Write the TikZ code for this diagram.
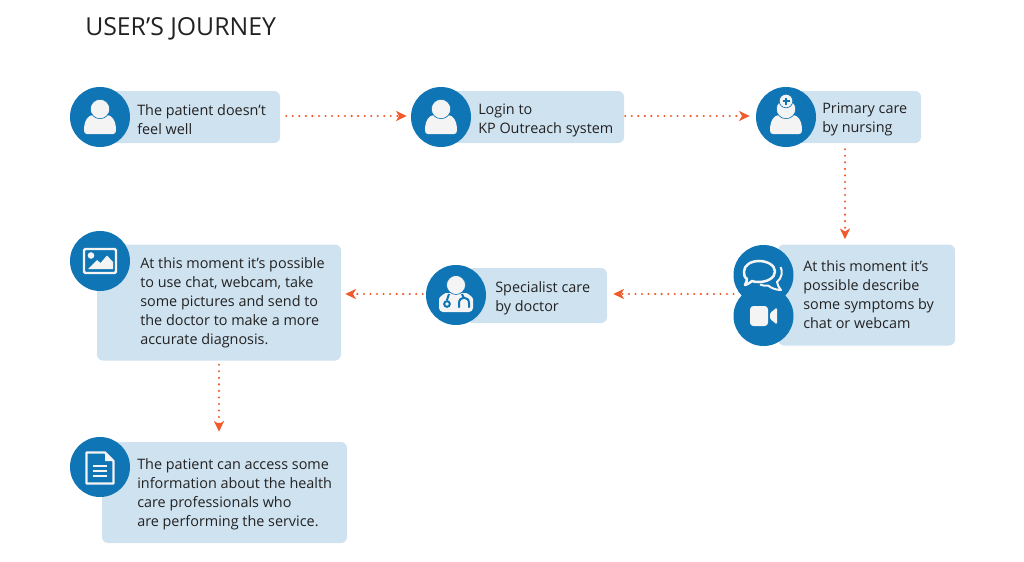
\documentclass[tikz,border=0pt]{standalone}
\usepackage{fontspec}
\setmainfont{Open Sans}
\usetikzlibrary{arrows.meta}
\definecolor{badgeblue}{HTML}{0F75B5}
\definecolor{boxblue}{HTML}{CFE2F0}
\definecolor{flowred}{HTML}{F15A2B}
\definecolor{inkgrey}{HTML}{222222}
\definecolor{iconwhite}{HTML}{F4F4F4}
\def\px{0.75pt}
\tikzstyle{info box}=[fill=boxblue, rounded corners=4.5pt, inner sep=0pt]
\tikzstyle{badge}=[circle, fill=badgeblue, inner sep=0pt, minimum size=60*\px]
\tikzstyle{info text}=[anchor=west, align=left, inner sep=0pt, text=inkgrey, font=\fontsize{10.8}{14.25}\selectfont]
\tikzstyle{flow}=[flowred, line width=1.75pt, line cap=round, dash pattern=on 0pt off 4.9pt, -{Stealth[length=8pt, width=7.5pt, inset=2.2pt, flowred, line cap=butt, sep=0pt]}]
\tikzstyle{icon}=[fill=iconwhite]
\tikzstyle{icon line}=[draw=iconwhite, line width=1.8pt]
% person shape, relative to the centre of its badge
\newcommand{\personicon}[1]{
  \begin{scope}[shift={(#1)}]
    \fill[icon] (-16,13) .. controls (-16,4) and (-12,-2) .. (-7,-2) -- (7,-2)
      .. controls (12,-2) and (16,4) .. (16,13) .. controls (16,16) and (15,17) .. (13,17)
      -- (-13,17) .. controls (-15,17) and (-16,16) .. (-16,13) -- cycle;
    \filldraw[icon, draw=badgeblue, line width=.5pt] (0,-8) circle (9.7);
  \end{scope}
}

\begin{document}
\begin{tikzpicture}[x=\px, y=-\px]
  \useasboundingbox (0,0) rectangle (1024,561);

  \node[anchor=west, inner sep=0pt, text=inkgrey, font=\fontsize{18.6}{22}\selectfont] (title) at (85,29.3) {USER’S JOURNEY};

  \node[info box, minimum width=172*\px, minimum height=52*\px] (patientbox) at (194,117) {};
  \node[info box, minimum width=173*\px, minimum height=52*\px] (loginbox) at (537.5,117) {};
  \node[info box, minimum width=152*\px, minimum height=52*\px] (nursebox) at (845,117) {};
  \node[info box, minimum width=177*\px, minimum height=101*\px] (symptombox) at (866.5,295) {};
  \node[info box, minimum width=140*\px, minimum height=55*\px] (doctorbox) at (537,295.5) {};
  \node[info box, minimum width=244*\px, minimum height=116*\px] (chatbox) at (219,302.5) {};
  \node[info box, minimum width=245*\px, minimum height=101*\px] (accessbox) at (224.5,492.5) {};

  \node[badge] (patient) at (100,117) {};
  \node[badge] (login) at (441,117) {};
  \node[badge] (nurse) at (786,117) {};
  \node[badge] (talk) at (763.5,275) {};
  \node[badge] (video) at (763.5,316) {};
  \node[badge] (doctor) at (456,295) {};
  \node[badge] (picture) at (100,261) {};
  \node[badge] (document) at (100,467) {};
  \coordinate (videoedge) at (733.5,294);

  \node[info text] (patienttext) at (137,119.2) {The patient doesn’t\\feel well};
  \node[info text] (logintext) at (478,120) {Login to\\KP Outreach system};
  \node[info text] (nursetext) at (822,119) {Primary care\\by nursing};
  \node[info text] (symptomtext) at (803,294.7) {At this moment it’s\\possible describe\\some symptoms by\\chat or webcam};
  \node[info text] (doctortext) at (495,298.5) {Specialist care\\by doctor};
  \node[info text] (chattext) at (140,302.5) {At this moment it’s possible\\to use chat, webcam, take\\some pictures and send to\\the doctor to make a more\\accurate diagnosis.};
  \node[info text] (accesstext) at (137,494.5) {The patient can access some\\information about the health\\care professionals who\\are performing the service.};

  \draw[flow, shorten >=4*\px, shorten <=6*\px] (patientbox.east |- 0,116) -- (login.west |- 0,116);
  \draw[flow, shorten >=6*\px, shorten <=1*\px] (loginbox.east |- 0,116) -- (nurse.west |- 0,116);
  \draw[flow, shorten >=5*\px, shorten <=6*\px] (nursebox.south) -- (nursebox.south |- symptombox.north);
  \draw[flow, shorten >=6*\px] (videoedge) -- (doctorbox.east |- videoedge);
  \draw[flow, shorten >=4*\px, shorten <=3*\px] (doctor.west |- videoedge) -- (chatbox.east |- videoedge);
  \draw[flow, shorten >=10*\px, shorten <=4*\px] (chatbox.south) -- (chatbox.south |- accessbox.north);

  \personicon{100,117}
  \personicon{441,117}
  \personicon{786,117}

  % nurse cap
  \filldraw[icon, draw=badgeblue, line width=.5pt] (786,101) circle (6.8);
  \draw[badgeblue, line width=1pt] (782.5,101) -- (789.5,101) (786,97.5) -- (786,104.5);

  % chat bubbles
  \draw[icon line, line width=1.5pt, line join=round] (780.5,267) .. controls (783,271) and (782,278) .. (777,282) .. controls (778,285) and (778.5,288) .. (781,290) .. controls (776,290) and (771,288) .. (768,285.5) .. controls (765,286) and (762,285.5) .. (760,284.5);
  \filldraw[draw=iconwhite, fill=badgeblue, line width=1.9pt, line join=round] (759,261) .. controls (767,261) and (775,265) .. (775,271.5) .. controls (775,278) and (767,282) .. (759,282) .. controls (756,282) and (754,282) .. (752,281) .. controls (750,283) and (747,284.5) .. (745,285) .. controls (746,283) and (747,280.5) .. (747,279) .. controls (744,277) and (744,274) .. (744,271.5) .. controls (744,265) and (751,261) .. (759,261) -- cycle;

  % webcam
  \fill[icon, rounded corners=2.5pt] (750,306) rectangle (768,326);
  \fill[icon, rounded corners=1pt] (770,313) -- (777,307.5) -- (777,324.5) -- (770,319) -- cycle;

  % doctor
  \fill[icon, rounded corners=3pt] (439,312) -- (439,303) .. controls (439,297) and (445,293) .. (450,293) -- (462,293) .. controls (467,293) and (473,297) .. (473,303) -- (473,312) -- cycle;
  \filldraw[icon, draw=badgeblue, line width=.5pt] (456,285) circle (9.5);
  \draw[badgeblue, line width=1.5pt] (449,294) -- (447,300) (447,304) circle (2.8);
  \draw[badgeblue, line width=1.5pt, line cap=round] (459,307) -- (459,303) .. controls (459,296) and (469,296) .. (469,303) -- (469,307);
  \draw[badgeblue, line width=1.5pt] (462,294) -- (464,298.5);

  % picture frame
  \draw[icon line, rounded corners=1pt] (84,249) rectangle (116,273);
  \fill[icon] (91,255.5) circle (3.3);
  \fill[icon] (88,269) -- (97,260) -- (100.5,263) -- (107,255.5) -- (113,262) -- (113,269) -- cycle;

  % document
  \draw[icon line, line join=round] (86.5,452.5) -- (105,452.5) -- (113.5,461) -- (113.5,483.5) -- (86.5,483.5) -- cycle;
  \fill[icon] (105,452) -- (114,461) -- (105,461) -- cycle;
  \draw[icon line, line width=1.5pt] (93,466) -- (107,466) (93,471) -- (107,471) (93,476) -- (107,476);
\end{tikzpicture}
\end{document}
